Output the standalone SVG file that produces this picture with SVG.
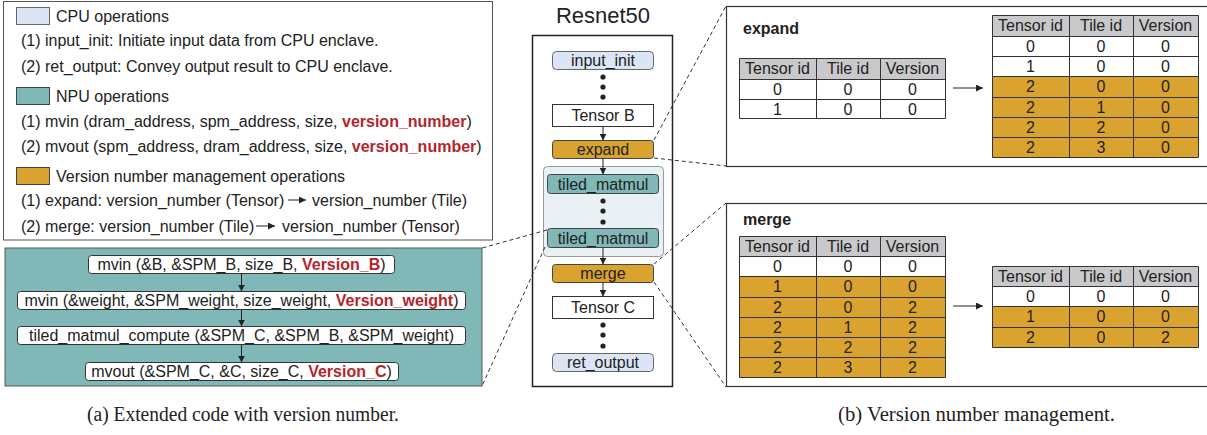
<svg xmlns="http://www.w3.org/2000/svg" width="1207" height="435" viewBox="0 0 1207 435">
  <defs>
    <marker id="arr" viewBox="0 0 10 10" refX="10" refY="5" markerWidth="7" markerHeight="7" markerUnits="userSpaceOnUse" orient="auto">
      <path d="M0,0 L10,5 L0,10 z" fill="#222"/>
    </marker>
    <marker id="arrw" viewBox="0 0 10 10" refX="10" refY="5" markerWidth="9" markerHeight="7" markerUnits="userSpaceOnUse" orient="auto">
      <path d="M0,0 L10,5 L0,10 z" fill="#222"/>
    </marker>
  </defs>
  <style>
    text { font-family: "Liberation Sans", Arial, sans-serif; font-size: 16px; fill: #222; }
    .c { text-anchor: middle; }
    .b { font-weight: bold; }
    .red { fill: #b3262c; font-weight: bold; }
    .cap { font-family: "Liberation Serif", "Times New Roman", serif; font-size: 20px; }
    .cpu { fill: #dbe5f5; stroke: #666; stroke-width: 1; }
    .npu { fill: #80b8b7; stroke: #444; stroke-width: 1; }
    .ver { fill: #daa22e; stroke: #444; stroke-width: 1; }
    .wbox { fill: #fff; stroke: #333; stroke-width: 1; }
    .hdr { fill: #c9c9cc; }
    .gold { fill: #daa22e; }
    .white { fill: #fff; }
    .grid { fill: none; stroke: #333; stroke-width: 1; }
    .link { stroke: #222; stroke-width: 1; fill: none; marker-end: url(#arr); }
    .dash { stroke: #333; stroke-width: 1; fill: none; stroke-dasharray: 4 3; }
    .panel { fill: #fff; stroke: #333; stroke-width: 1.2; }
    .dot { fill: #222; }
  </style>

  <!-- legend -->
  <g id="legend">
    <rect x="3.5" y="1.5" width="489" height="238.5" fill="#fff" stroke="#555" stroke-width="1"/>
    <rect x="16.5" y="7.5" width="33" height="17" class="cpu" stroke="#444"/>
    <text x="56" y="22">CPU operations</text>
    <text x="21" y="46">(1) input_init: Initiate input data from CPU enclave.</text>
    <text x="21" y="72">(2) ret_output: Convey output result to CPU enclave.</text>
    <rect x="16.5" y="87.5" width="33" height="17" class="npu"/>
    <text x="56" y="102">NPU operations</text>
    <text x="21" y="127">(1) mvin (dram_address, spm_address, size, <tspan class="red">version_number</tspan>)</text>
    <text x="21" y="152">(2) mvout (spm_address, dram_address, size, <tspan class="red">version_number</tspan>)</text>
    <rect x="16.5" y="167.5" width="33" height="17" class="ver"/>
    <text x="56" y="182">Version number management operations</text>
    <text x="21" y="206">(1) expand: version_number (Tensor)</text>
    <line x1="288" y1="200" x2="306" y2="200" class="link" style="marker-end:url(#arrw)"/>
    <text x="312" y="206">version_number (Tile)</text>
    <text x="21" y="232">(2) merge: version_number (Tile)</text>
    <line x1="256" y1="226" x2="275" y2="226" class="link" style="marker-end:url(#arrw)"/>
    <text x="282" y="232">version_number (Tensor)</text>
  </g>

  <!-- expanded tiled_matmul code -->
  <g id="code">
    <rect x="5" y="248" width="477" height="138" fill="#80b8b7" stroke="#555" stroke-width="1"/>
    <g id="code-mvin-b">
      <rect x="88.5" y="255.5" width="306" height="18" rx="3" class="wbox"/>
      <text x="241.5" y="270" class="c">mvin (&amp;B, &amp;SPM_B, size_B, <tspan class="red">Version_B</tspan>)</text>
    </g>
    <g id="code-mvin-w">
      <rect x="17.5" y="291.5" width="448" height="18" rx="3" class="wbox"/>
      <text x="241.5" y="306" class="c">mvin (&amp;weight, &amp;SPM_weight, size_weight, <tspan class="red">Version_weight</tspan>)</text>
    </g>
    <g id="code-compute">
      <rect x="17.5" y="326.5" width="448" height="18" rx="3" class="wbox"/>
      <text x="241.5" y="341" class="c">tiled_matmul_compute (&amp;SPM_C, &amp;SPM_B, &amp;SPM_weight)</text>
    </g>
    <g id="code-mvout">
      <rect x="85.5" y="362.5" width="313" height="18" rx="3" class="wbox"/>
      <text x="241.5" y="377" class="c">mvout (&amp;SPM_C, &amp;C, size_C, <tspan class="red">Version_C</tspan>)</text>
    </g>
  </g>

  <!-- Resnet50 pipeline -->
  <g id="resnet">
    <text x="603" y="23" class="c" style="font-size:22px">Resnet50</text>
    <rect x="532.5" y="35.5" width="140" height="351" fill="#fff" stroke="#222" stroke-width="1.5"/>
    <rect x="543.5" y="166.5" width="120" height="90" rx="4" fill="#e9f1f4" stroke="#999" stroke-width="1"/>
  </g>
  <g id="input_init">
    <rect x="552.5" y="51.5" width="101" height="18" rx="4" class="cpu"/>
    <text x="603" y="66" class="c">input_init</text>
  </g>
  <g id="tensor_b">
    <rect x="552.5" y="104.5" width="101" height="22" class="wbox"/>
    <text x="603" y="121" class="c">Tensor B</text>
  </g>
  <g id="expand">
    <rect x="552.5" y="140.5" width="101" height="18" rx="3" class="ver"/>
    <text x="603" y="155" class="c">expand</text>
  </g>
  <g id="tiled_matmul_1">
    <rect x="547.5" y="174.5" width="111" height="19" rx="3" class="npu"/>
    <text x="603" y="190" class="c">tiled_matmul</text>
  </g>
  <g id="tiled_matmul_2">
    <rect x="547.5" y="228.5" width="111" height="19" rx="3" class="npu"/>
    <text x="603" y="244" class="c">tiled_matmul</text>
  </g>
  <g id="merge">
    <rect x="552.5" y="264.5" width="101" height="18" rx="3" class="ver"/>
    <text x="603" y="279" class="c">merge</text>
  </g>
  <g id="tensor_c">
    <rect x="552.5" y="296.5" width="101" height="22" class="wbox"/>
    <text x="603" y="313" class="c">Tensor C</text>
  </g>
  <g id="ret_output">
    <rect x="552.5" y="353.5" width="101" height="18" rx="4" class="cpu"/>
    <text x="603" y="368" class="c">ret_output</text>
  </g>

  <!-- expand panel -->
  <g id="expand-panel">
    <rect x="726.5" y="6.5" width="490" height="160" class="panel"/>
    <text x="743" y="34" class="b">expand</text>
    <g id="expand-before">
      <rect x="739" y="58" width="206" height="21" class="hdr"/>
      <rect x="739" y="79" width="206" height="40" class="white"/>
      <path d="M739.5,58.5 H945.5 V118.5 H739.5 Z M739.5,79.5 H945.5 M739.5,99.5 H945.5 M816.5,58.5 V118.5 M880.5,58.5 V118.5" class="grid"/>
      <text x="777.5" y="74" class="c">Tensor id</text><text x="848" y="74" class="c">Tile id</text><text x="912.5" y="74" class="c">Version</text>
      <text x="777.5" y="95" class="c">0</text><text x="848" y="95" class="c">0</text><text x="912.5" y="95" class="c">0</text>
      <text x="777.5" y="115" class="c">1</text><text x="848" y="115" class="c">0</text><text x="912.5" y="115" class="c">0</text>
    </g>
    <g id="expand-after">
      <rect x="992" y="15" width="206" height="21" class="hdr"/>
      <rect x="992" y="36" width="206" height="40" class="white"/>
      <rect x="992" y="76" width="206" height="81" class="gold"/>
      <path d="M992.5,15.5 H1198.5 V157.5 H992.5 Z M992.5,36.5 H1198.5 M992.5,56.5 H1198.5 M992.5,76.5 H1198.5 M992.5,97.5 H1198.5 M992.5,117.5 H1198.5 M992.5,137.5 H1198.5 M1069.5,15.5 V157.5 M1133.5,15.5 V157.5" class="grid"/>
      <text x="1030.5" y="31" class="c">Tensor id</text><text x="1101" y="31" class="c">Tile id</text><text x="1165.5" y="31" class="c">Version</text>
      <text x="1030.5" y="52" class="c">0</text><text x="1101" y="52" class="c">0</text><text x="1165.5" y="52" class="c">0</text>
      <text x="1030.5" y="72" class="c">1</text><text x="1101" y="72" class="c">0</text><text x="1165.5" y="72" class="c">0</text>
      <text x="1030.5" y="92" class="c">2</text><text x="1101" y="92" class="c">0</text><text x="1165.5" y="92" class="c">0</text>
      <text x="1030.5" y="113" class="c">2</text><text x="1101" y="113" class="c">1</text><text x="1165.5" y="113" class="c">0</text>
      <text x="1030.5" y="133" class="c">2</text><text x="1101" y="133" class="c">2</text><text x="1165.5" y="133" class="c">0</text>
      <text x="1030.5" y="153" class="c">2</text><text x="1101" y="153" class="c">3</text><text x="1165.5" y="153" class="c">0</text>
    </g>
  </g>

  <!-- merge panel -->
  <g id="merge-panel">
    <rect x="726.5" y="203.5" width="490" height="183" class="panel"/>
    <text x="743" y="225" class="b">merge</text>
    <g id="merge-before">
      <rect x="739" y="236" width="206" height="20" class="hdr"/>
      <rect x="739" y="256" width="206" height="20" class="white"/>
      <rect x="739" y="276" width="206" height="101" class="gold"/>
      <path d="M739.5,236.5 H945.5 V377.5 H739.5 Z M739.5,256.5 H945.5 M739.5,276.5 H945.5 M739.5,297.5 H945.5 M739.5,317.5 H945.5 M739.5,337.5 H945.5 M739.5,357.5 H945.5 M816.5,236.5 V377.5 M880.5,236.5 V377.5" class="grid"/>
      <text x="777.5" y="252" class="c">Tensor id</text><text x="848" y="252" class="c">Tile id</text><text x="912.5" y="252" class="c">Version</text>
      <text x="777.5" y="272" class="c">0</text><text x="848" y="272" class="c">0</text><text x="912.5" y="272" class="c">0</text>
      <text x="777.5" y="292" class="c">1</text><text x="848" y="292" class="c">0</text><text x="912.5" y="292" class="c">0</text>
      <text x="777.5" y="313" class="c">2</text><text x="848" y="313" class="c">0</text><text x="912.5" y="313" class="c">2</text>
      <text x="777.5" y="333" class="c">2</text><text x="848" y="333" class="c">1</text><text x="912.5" y="333" class="c">2</text>
      <text x="777.5" y="353" class="c">2</text><text x="848" y="353" class="c">2</text><text x="912.5" y="353" class="c">2</text>
      <text x="777.5" y="373" class="c">2</text><text x="848" y="373" class="c">3</text><text x="912.5" y="373" class="c">2</text>
    </g>
    <g id="merge-after">
      <rect x="992" y="266" width="206" height="20" class="hdr"/>
      <rect x="992" y="286" width="206" height="20" class="white"/>
      <rect x="992" y="306" width="206" height="41" class="gold"/>
      <path d="M992.5,266.5 H1198.5 V347.5 H992.5 Z M992.5,286.5 H1198.5 M992.5,306.5 H1198.5 M992.5,327.5 H1198.5 M1069.5,266.5 V347.5 M1133.5,266.5 V347.5" class="grid"/>
      <text x="1030.5" y="282" class="c">Tensor id</text><text x="1101" y="282" class="c">Tile id</text><text x="1165.5" y="282" class="c">Version</text>
      <text x="1030.5" y="302" class="c">0</text><text x="1101" y="302" class="c">0</text><text x="1165.5" y="302" class="c">0</text>
      <text x="1030.5" y="322" class="c">1</text><text x="1101" y="322" class="c">0</text><text x="1165.5" y="322" class="c">0</text>
      <text x="1030.5" y="343" class="c">2</text><text x="1101" y="343" class="c">0</text><text x="1165.5" y="343" class="c">2</text>
    </g>
  </g>

  <!-- connectors -->
  <g id="connectors">
    <!-- code flow -->
    <line x1="241.5" y1="273.5" x2="241.5" y2="291.5" class="link"/>
    <line x1="241.5" y1="309.5" x2="241.5" y2="326.5" class="link"/>
    <line x1="241.5" y1="344.5" x2="241.5" y2="362.5" class="link"/>
    <!-- pipeline flow -->
    <line x1="603" y1="126.5" x2="603" y2="140.5" class="link"/>
    <line x1="603" y1="158.5" x2="603" y2="174.5" class="link"/>
    <line x1="603" y1="247.5" x2="603" y2="264.5" class="link"/>
    <line x1="603" y1="282.5" x2="603" y2="296.5" class="link"/>
    <!-- elided steps -->
    <circle cx="603" cy="77" r="2.6" class="dot"/>
    <circle cx="603" cy="87" r="2.6" class="dot"/>
    <circle cx="603" cy="97" r="2.6" class="dot"/>
    <circle cx="603" cy="201" r="2.6" class="dot"/>
    <circle cx="603" cy="211" r="2.6" class="dot"/>
    <circle cx="603" cy="222" r="2.6" class="dot"/>
    <circle cx="603" cy="325" r="2.6" class="dot"/>
    <circle cx="603" cy="335" r="2.6" class="dot"/>
    <circle cx="603" cy="346" r="2.6" class="dot"/>
    <!-- zoom-out guides -->
    <line x1="654" y1="140" x2="726" y2="6" class="dash"/>
    <line x1="654" y1="158" x2="726" y2="166" class="dash"/>
    <line x1="654" y1="264" x2="726" y2="203" class="dash"/>
    <line x1="654" y1="282" x2="726" y2="387" class="dash"/>
    <line x1="547" y1="230" x2="482" y2="248" class="dash"/>
    <line x1="545" y1="247" x2="482" y2="386" class="dash"/>
    <!-- small arrows between tables -->
    <line x1="953" y1="88" x2="983" y2="88" class="link" style="marker-end:url(#arrw)"/>
    <line x1="953" y1="306" x2="983" y2="306" class="link" style="marker-end:url(#arrw)"/>
  </g>

  <!-- captions -->
  <text x="87" y="421" class="cap" textLength="312" lengthAdjust="spacingAndGlyphs">(a) Extended code with version number.</text>
  <text x="838" y="421" class="cap" textLength="277" lengthAdjust="spacingAndGlyphs">(b) Version number management.</text>
</svg>
